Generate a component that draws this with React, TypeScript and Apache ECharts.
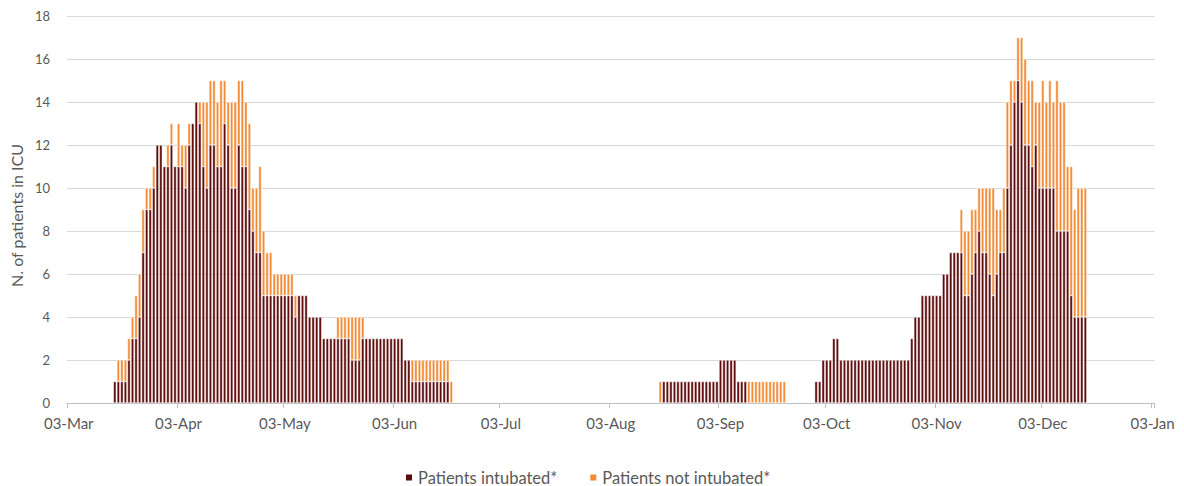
import React, { useEffect, useRef } from 'react';
import * as echarts from 'echarts';

// Axis spans 03-Mar-2020 .. 03-Jan-2021, one category per day
const axisStart = '2020-03-03';
const axisDays = 307;
const monthNames = ['Jan', 'Feb', 'Mar', 'Apr', 'May', 'Jun', 'Jul', 'Aug', 'Sep', 'Oct', 'Nov', 'Dec'];

const yMin = 0;
const yMax = 18;
const yInterval = 2;

const seriesNames = ['Patients intubated*', 'Patients not intubated*'];

// Wave 1 (from 16-Mar)
const wave1Start = '2020-03-16';
const wave1Intubated = [
  1, 1, 1, 1, 2, 3, 3, 4, 7, 9,
  9, 10, 12, 12, 11, 11, 12, 11, 11, 11,
  10, 12, 13, 14, 13, 11, 10, 12, 12, 11,
  11, 13, 12, 10, 10, 12, 11, 11, 9, 8,
  7, 7, 5, 5, 5, 5, 5, 5, 5, 5,
  5, 4, 5, 5, 5, 4, 4, 4, 4, 3,
  3, 3, 3, 3, 3, 3, 3, 2, 2, 2,
  3, 3, 3, 3, 3, 3, 3, 3, 3, 3,
  3, 3, 2, 2, 1, 1, 1, 1, 1, 1,
  1, 1, 1, 1, 1, 0,
];
const wave1NotIntubated = [
  0, 1, 1, 1, 1, 1, 2, 2, 2, 1,
  1, 1, 0, 0, 0, 1, 1, 0, 2, 1,
  2, 1, 0, 0, 1, 3, 4, 3, 3, 3,
  4, 2, 2, 4, 4, 3, 4, 3, 4, 2,
  3, 4, 3, 2, 2, 1, 1, 1, 1, 1,
  1, 1, 0, 0, 0, 0, 0, 0, 0, 0,
  0, 0, 0, 1, 1, 1, 1, 2, 2, 2,
  1, 0, 0, 0, 0, 0, 0, 0, 0, 0,
  0, 0, 0, 0, 1, 1, 1, 1, 1, 1,
  1, 1, 1, 1, 1, 1,
];

// Wave 2 (from 17-Aug)
const wave2Start = '2020-08-17';
const wave2Intubated = [
  0, 1, 1, 1, 1, 1, 1, 1, 1, 1,
  1, 1, 1, 1, 1, 1, 1, 2, 2, 2,
  2, 2, 1, 1, 1, 0, 0, 0, 0, 0,
  0, 0, 0, 0, 0, 0,
];
const wave2NotIntubated = [
  1, 0, 0, 0, 0, 0, 0, 0, 0, 0,
  0, 0, 0, 0, 0, 0, 0, 0, 0, 0,
  0, 0, 0, 0, 0, 1, 1, 1, 1, 1,
  1, 1, 1, 1, 1, 1,
];

// Wave 3 (from 30-Sep)
const wave3Start = '2020-09-30';
const wave3Intubated = [
  1, 1, 2, 2, 2, 3, 3, 2, 2, 2,
  2, 2, 2, 2, 2, 2, 2, 2, 2, 2,
  2, 2, 2, 2, 2, 2, 2, 3, 4, 4,
  5, 5, 5, 5, 5, 5, 6, 6, 7, 7,
  7, 7, 5, 5, 6, 7, 8, 7, 7, 6,
  5, 6, 7, 7, 10, 12, 14, 15, 14, 12,
  12, 11, 12, 10, 10, 10, 10, 10, 8, 8,
  8, 8, 5, 4, 4, 4, 4,
];
const wave3NotIntubated = [
  0, 0, 0, 0, 0, 0, 0, 0, 0, 0,
  0, 0, 0, 0, 0, 0, 0, 0, 0, 0,
  0, 0, 0, 0, 0, 0, 0, 0, 0, 0,
  0, 0, 0, 0, 0, 0, 0, 0, 0, 0,
  0, 2, 3, 3, 3, 2, 2, 3, 3, 4,
  5, 3, 2, 3, 4, 3, 1, 2, 3, 4,
  3, 4, 2, 4, 5, 4, 5, 4, 7, 6,
  6, 3, 6, 5, 6, 6, 6,
];

const DAY = 86400000;
const dayIndex = (d: string) => Math.round((Date.parse(d) - Date.parse(axisStart)) / DAY);

function buildCategories(): string[] {
  const start = Date.parse(axisStart);
  const out: string[] = [];
  for (let i = 0; i < axisDays; i++) {
    const dt = new Date(start + i * DAY);
    const dd = String(dt.getUTCDate()).padStart(2, '0');
    out.push(dd + '-' + monthNames[dt.getUTCMonth()]);
  }
  return out;
}

function buildSeries(waves: [string, number[]][]): (number | null)[] {
  const arr: (number | null)[] = new Array(axisDays).fill(null);
  waves.forEach(([start, vals]) => {
    const s = dayIndex(start);
    vals.forEach((v, k) => {
      arr[s + k] = v === 0 ? null : v;
    });
  });
  return arr;
}

const COLOR_INT = '#5E0B0B';
const COLOR_NOT = '#F28B35';
const TEXT = '#595959';
const FONT = 'Lato, "Liberation Sans", sans-serif';

export default function App() {
  const ref = useRef<HTMLDivElement>(null);

  useEffect(() => {
    if (!ref.current) return;
    const chart = echarts.init(ref.current, null, { renderer: 'svg' });
    const categories = buildCategories();
    const intubated = buildSeries([
      [wave1Start, wave1Intubated],
      [wave2Start, wave2Intubated],
      [wave3Start, wave3Intubated],
    ]);
    const notIntubated = buildSeries([
      [wave1Start, wave1NotIntubated],
      [wave2Start, wave2NotIntubated],
      [wave3Start, wave3NotIntubated],
    ]);
    const isLabelDay = (_i: number, v: string) => v.startsWith('03-');

    chart.setOption({
      animation: false,
      textStyle: { fontFamily: FONT },
      grid: { left: 65.5, right: 29.6, top: 16, bottom: 83, containLabel: false },
      legend: {
        left: 399,
        top: 464,
        icon: 'rect',
        itemWidth: 8,
        itemHeight: 8,
        itemGap: 31,
        textStyle: { color: TEXT, fontSize: 16.5, fontFamily: FONT },
        data: seriesNames,
      },
      xAxis: {
        type: 'category',
        data: categories,
        boundaryGap: true,
        axisLine: { lineStyle: { color: '#bfbfbf', width: 1 } },
        axisTick: {
          show: true,
          interval: isLabelDay,
          length: 5,
          lineStyle: { color: '#bfbfbf' },
        },
        axisLabel: {
          interval: isLabelDay,
          color: TEXT,
          fontSize: 15,
          fontFamily: FONT,
          margin: 12,
          hideOverlap: false,
        },
        splitLine: { show: false },
      },
      yAxis: {
        type: 'value',
        min: yMin,
        max: yMax,
        interval: yInterval,
        name: 'N. of patients in ICU',
        nameLocation: 'middle',
        nameGap: 41,
        nameTextStyle: { color: TEXT, fontSize: 16, fontFamily: FONT, padding: [0, 12, 0, 0] },
        axisLine: { show: false },
        axisTick: { show: false },
        axisLabel: { color: TEXT, fontSize: 13, fontFamily: FONT, margin: 17 },
        splitLine: { lineStyle: { color: '#d9d9d9', width: 1 } },
      },
      series: [
        {
          name: seriesNames[0],
          type: 'bar',
          stack: 'icu',
          data: intubated,
          barCategoryGap: '18%',
          itemStyle: { color: COLOR_INT, borderColor: '#ffffff', borderWidth: 0.5 },
        },
        {
          name: seriesNames[1],
          type: 'bar',
          stack: 'icu',
          data: notIntubated,
          barCategoryGap: '18%',
          itemStyle: { color: COLOR_NOT, borderColor: '#ffffff', borderWidth: 0.5 },
        },
      ],
    });
    return () => chart.dispose();
  }, []);

  return (
    <div
      ref={ref}
      style={{ position: 'fixed', left: 0, top: 0, width: 1184, height: 486, background: '#ffffff' }}
    />
  );
}
